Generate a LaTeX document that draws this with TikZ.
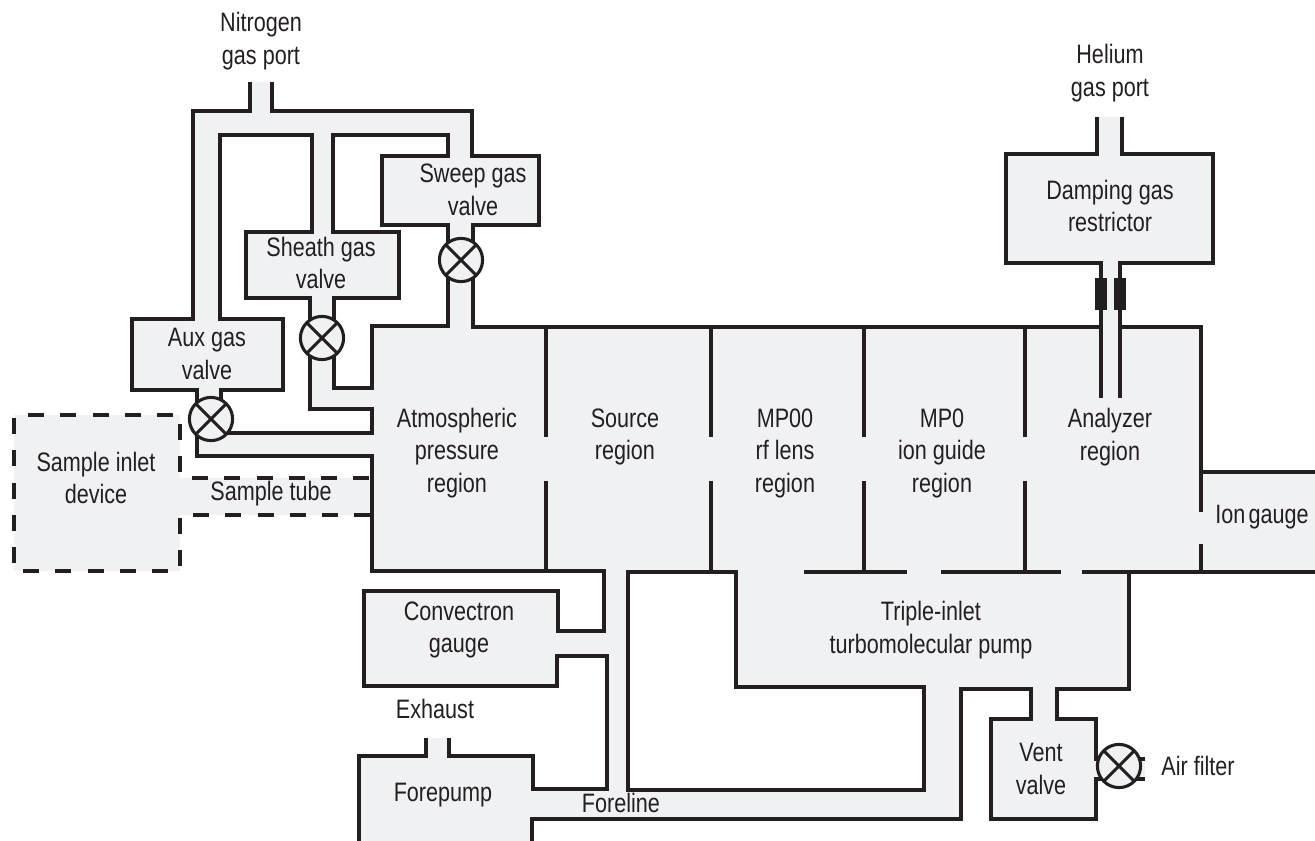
\documentclass[tikz,border=0pt]{standalone}
\usepackage{fontspec}
\setmainfont[FakeStretch=0.81]{Liberation Sans}
\usepackage{xcolor}
\usetikzlibrary{positioning}
\definecolor{gasgray}{HTML}{F0F1F3}
\definecolor{wallink}{HTML}{231F20}
\tikzset{
    wall/.style={line width=2.3pt, draw=wallink, line join=miter},
    dashwall/.style={line width=2.3pt, draw=wallink, dash pattern=on 12pt off 12.2pt},
    lbl/.style={align=center, inner sep=0pt, text=wallink, font=\fontsize{20}{24.4}\selectfont},
    valve/.style={circle, inner sep=0pt, minimum size=32.4pt, wall, fill=gasgray,
        path picture={
            \draw[wall] (path picture bounding box.north west) -- (path picture bounding box.south east);
            \draw[wall] (path picture bounding box.north east) -- (path picture bounding box.south west);
        }},
    restrictor/.style={fill=wallink}
}
\begin{document}
\begin{tikzpicture}[x=0.75pt, y=-0.75pt]
    \useasboundingbox (0, 0) rectangle (1315, 841);

    % 进样装置（虚线）
    \fill[gasgray] (14, 415) rectangle (180, 571);
    \fill[gasgray] (180, 478) rectangle (372, 515);
    \draw[dashwall] (28, 415) -- (180, 415);
    \draw[dashwall] (14, 418) -- (14, 571);
    \draw[dashwall] (23, 571) -- (180, 571);
    \draw[dashwall] (180, 424) -- (180, 478);
    \draw[dashwall] (180, 518) -- (180, 571);
    \draw[dashwall] (192, 478) -- (372, 478);
    \draw[dashwall] (193, 515) -- (372, 515);

    % 气路底色
    \fill[gasgray, even odd rule]
        (250, 82) -- (250, 111) -- (193, 111) -- (193, 319) -- (132, 319) -- (132, 390) -- (197, 390)
        -- (197, 456) -- (372, 456) -- (372, 571) -- (604, 571) -- (604, 631) -- (558, 631) -- (558, 591)
        -- (364, 591) -- (364, 686) -- (557, 686) -- (557, 656) -- (607, 656) -- (607, 789) -- (533, 789)
        -- (533, 756) -- (449, 756) -- (449, 738) -- (426, 738) -- (426, 756) -- (359, 756) -- (359, 841)
        -- (532, 841) -- (532, 819) -- (961, 819) -- (961, 689) -- (1031, 689) -- (1031, 719) -- (991, 719)
        -- (991, 819) -- (1096, 819) -- (1096, 779) -- (1145, 779) -- (1145, 759) -- (1096, 759) -- (1096, 719)
        -- (1057, 719) -- (1057, 689) -- (1129, 689) -- (1129, 572) -- (1315, 572) -- (1315, 472) -- (1201, 472)
        -- (1201, 327) -- (1120, 327) -- (1120, 263) -- (1213, 263) -- (1213, 154) -- (1122, 154) -- (1122, 117)
        -- (1097, 117) -- (1097, 154) -- (1006, 154) -- (1006, 263) -- (1101, 263) -- (1101, 327) -- (473, 327)
        -- (473, 225) -- (539, 225) -- (539, 156) -- (472, 156) -- (472, 111) -- (272, 111) -- (272, 82) -- cycle
        (220, 135) -- (312, 135) -- (312, 232) -- (246, 232) -- (246, 298) -- (310, 298) -- (310, 409)
        -- (372, 409) -- (372, 433) -- (221, 433) -- (221, 390) -- (283, 390) -- (283, 319) -- (220, 319) -- cycle
        (333, 135) -- (448, 135) -- (448, 156) -- (382, 156) -- (382, 225) -- (448, 225) -- (448, 326)
        -- (372, 326) -- (372, 388) -- (334, 388) -- (334, 298) -- (399, 298) -- (399, 232) -- (333, 232) -- cycle
        (628, 572) -- (736, 572) -- (736, 687) -- (924, 687) -- (924, 790) -- (628, 790) -- cycle;

    % 外壁
    \draw[wall] (250, 82) -- (250, 111) -- (193, 111) -- (193, 319) -- (132, 319) -- (132, 390) -- (197, 390)
        -- (197, 456) -- (372, 456) -- (372, 571) -- (604, 571) -- (604, 631) -- (558, 631) -- (558, 591)
        -- (364, 591) -- (364, 686) -- (557, 686) -- (557, 656) -- (607, 656) -- (607, 789) -- (533, 789)
        -- (533, 756) -- (449, 756) -- (449, 738);
    \draw[wall] (426, 738) -- (426, 756) -- (359, 756) -- (359, 841);
    \draw[wall] (532, 841) -- (532, 819) -- (961, 819) -- (961, 689) -- (1031, 689) -- (1031, 719) -- (991, 719)
        -- (991, 819) -- (1096, 819) -- (1096, 779) -- (1145, 779);
    \draw[wall] (1145, 759) -- (1096, 759) -- (1096, 719) -- (1057, 719) -- (1057, 689) -- (1129, 689) -- (1129, 572);
    \draw[wall] (1201, 512) -- (1201, 327) -- (1120, 327) -- (1120, 263) -- (1213, 263) -- (1213, 154) -- (1122, 154) -- (1122, 117);
    \draw[wall] (1097, 117) -- (1097, 154) -- (1006, 154) -- (1006, 263) -- (1101, 263) -- (1101, 398);
    \draw[wall] (1101, 327) -- (473, 327) -- (473, 225) -- (539, 225) -- (539, 156) -- (472, 156) -- (472, 111) -- (272, 111) -- (272, 82);
    \draw[wall] (1120, 327) -- (1120, 398);
    \draw[wall] (1201, 544) -- (1201, 572);
    \draw[wall] (1315, 472) -- (1201, 472);

    % 内壁
    \draw[wall] (220, 135) -- (312, 135) -- (312, 232) -- (246, 232) -- (246, 298) -- (310, 298) -- (310, 409)
        -- (372, 409) -- (372, 433) -- (221, 433) -- (221, 390) -- (283, 390) -- (283, 319) -- (220, 319) -- cycle;
    \draw[wall] (333, 135) -- (448, 135) -- (448, 156) -- (382, 156) -- (382, 225) -- (448, 225) -- (448, 326)
        -- (372, 326) -- (372, 388) -- (334, 388) -- (334, 298) -- (399, 298) -- (399, 232) -- (333, 232) -- cycle;
    \draw[wall] (628, 572) -- (736, 572) -- (736, 687) -- (924, 687) -- (924, 790) -- (628, 790) -- cycle;

    % 隔板
    \draw[wall] (546, 327) -- (546, 437);
    \draw[wall] (546, 481) -- (546, 572);
    \draw[wall] (711, 327) -- (711, 437);
    \draw[wall] (711, 481) -- (711, 572);
    \draw[wall] (864, 327) -- (864, 437);
    \draw[wall] (864, 481) -- (864, 572);
    \draw[wall] (1025, 327) -- (1025, 437);
    \draw[wall] (1025, 481) -- (1025, 572);
    \draw[wall] (804, 572) -- (907, 572);
    \draw[wall] (941, 572) -- (1061, 572);
    \draw[wall] (1082, 572) -- (1315, 572);

    % 限流器
    \fill[restrictor] (1095, 278) rectangle (1107, 310);
    \fill[restrictor] (1114, 278) rectangle (1126, 310);

    % 阀门
    \node[valve] (sweepvalve) at (461, 260) {};
    \node[valve] (sheathvalve) at (322, 338) {};
    \node[valve] (auxvalve) at (211, 419) {};
    \node[valve] (ventvalve) at (1119, 766) {};

    % 标注
    \node[lbl] (nitrogen) at (261, 41) {Nitrogen\\gas port};
    \node[lbl] (helium) at (1110, 73) {Helium\\gas port};
    \node[lbl] (sweep) at (473, 190) {Sweep gas\\valve};
    \node[lbl] (sheath) at (321, 263) {Sheath gas\\valve};
    \node[lbl] (aux) at (207, 354) {Aux gas\\valve};
    \node[lbl] (damping) at (1110, 206) {Damping gas\\restrictor};
    \node[lbl] (inlet) at (96, 478) {Sample inlet\\device};
    \node[lbl] (tube) at (271, 494) {Sample tube};
    \node[lbl] (atmos) at (457, 453) {Atmospheric\\pressure\\region};
    \node[lbl] (source) at (625, 437) {Source\\region};
    \node[lbl] (lens) at (785, 453) {MP00\\rf lens\\region};
    \node[lbl] (guide) at (942, 453) {MP0\\ion guide\\region};
    \node[lbl] (analyzer) at (1110, 437) {Analyzer\\region};
    \node[lbl] (iongauge) at (1262, 517) {Ion\hspace{2.5pt}gauge};
    \node[lbl] (convectron) at (459, 630) {Convectron\\gauge};
    \node[lbl] (exhaust) at (435, 709) {Exhaust};
    \node[lbl] (forepump) at (443, 795) {Forepump};
    \node[lbl] (foreline) at (621, 803) {Foreline};
    \node[lbl] (turbo) at (931, 630) {Triple-inlet\\turbomolecular pump};
    \node[lbl] (vent) at (1041, 769) {Vent\\valve};
    \node[lbl] (filter) at (1198, 766) {Air filter};
\end{tikzpicture}
\end{document}
